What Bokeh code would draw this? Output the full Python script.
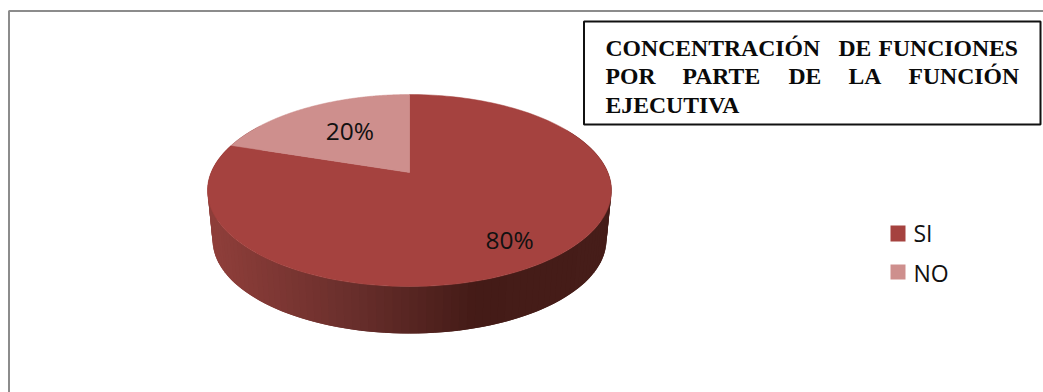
import math
from bokeh.plotting import figure
from bokeh.models import Range1d
from bokeh.core.properties import value
from bokeh.embed import file_html
from bokeh.resources import INLINE

categories = ["SI", "NO"]
values = [80, 20]
labels = ["80%", "20%"]
colors = ["#A5423F", "#CE8F8D"]
title_lines = [["CONCENTRACIÓN", "DE", "FUNCIONES"],
               ["POR", "PARTE", "DE", "LA", "FUNCIÓN"],
               ["EJECUTIVA"]]

# layout, in page pixels
CX, CY, A, B, K = 409, 172, 198.4, 92.6, 0.1875
LOW_CY, LOW_S = 222, 0.975
TITLE_X = [[605, 838, 878], [605, 682, 788, 848, 908], [605]]
TITLE_Y = [47, 75, 104]
LABEL_R = [0.78, 0.57]
LABEL_SHIFT = [(-3, 1), (1.5, -3)]


def project(theta_deg, r=1.0, cy=CY, s=1.0):
    t = math.radians(theta_deg)
    u, v = r * math.sin(t), r * math.cos(t)
    w = 1 + K * v
    return CX + s * A * u / w, cy - s * B * v / w


def side_color(x):
    stops = [(213, (142, 62, 58)), (350, (104, 46, 43)), (470, (68, 27, 23)), (610, (70, 29, 25))]
    for (x0, c0), (x1, c1) in zip(stops, stops[1:]):
        if x <= x1:
            f = max(0, (x - x0) / (x1 - x0))
            return "#%02x%02x%02x" % tuple(round(a + (b - a) * f) for a, b in zip(c0, c1))
    return "#%02x%02x%02x" % stops[-1][1]


p = figure(width=1043, height=392, output_backend="svg", toolbar_location=None,
           x_range=Range1d(0, 1043), y_range=Range1d(392, 0), min_border=0,
           outline_line_color=None, border_fill_color="white", background_fill_color="white")
p.axis.visible = False
p.grid.visible = False

# frame: top and left rules only
p.line([8.5, 8.5, 1043], [392, 10.5, 10.5], line_color="#8c8c8c", line_width=2)

# extruded side, shaded left to right; strips overlap so no seams show
xs, ys, cs = [], [], []
for d in range(60, 302, 2):
    x0, y0 = project(d)
    x1, y1 = project(d + 4)
    x2, y2 = project(d + 4, cy=LOW_CY, s=LOW_S)
    x3, y3 = project(d, cy=LOW_CY, s=LOW_S)
    xs.append([x0, x1, x2, x3])
    ys.append([y0, y1, y2, y3])
    cs.append(side_color((x0 + x1) / 2))
p.patches(xs, ys, fill_color=cs, line_color=None)

# top face, slices clockwise from twelve o'clock
total = sum(values)
start = 0.0
for val, col, lab, lr, (dx, dy) in zip(values, colors, labels, LABEL_R, LABEL_SHIFT):
    sweep = 360 * val / total
    pts = [project(start + sweep * i / 180) for i in range(181)]
    p.patch([CX] + [q[0] for q in pts], [CY] + [q[1] for q in pts], fill_color=col, line_color=col, line_width=0.5)
    lx, ly = project(start + sweep / 2, r=lr)
    p.text([lx + dx], [ly + dy], text=[lab], text_font=value("Open Sans"), text_font_size="24.5px",
           text_color="#111111", text_align="center", text_baseline="middle")
    start += sweep

# title box
p.quad(left=[583.5], right=[1040], top=[21], bottom=[124], fill_color="white",
       line_color="#111111", line_width=2)
for words, wx, wy in zip(title_lines, TITLE_X, TITLE_Y):
    p.text(wx, [wy] * len(words), text=words, text_font=value("Liberation Serif"),
           text_font_style="bold", text_font_size="23.7px", text_color="#0a0a0a",
           text_align="left", text_baseline="middle")

# legend
p.quad(left=[890, 890], right=[905, 905], top=[225, 264], bottom=[241, 279], fill_color=colors, line_color=None)
p.text([913, 913], [232, 272], text=categories, text_font=value("Open Sans"), text_font_size="23px",
       text_color="#111111", text_align="left", text_baseline="middle")

open("out.html", "w").write(file_html(p, INLINE))
